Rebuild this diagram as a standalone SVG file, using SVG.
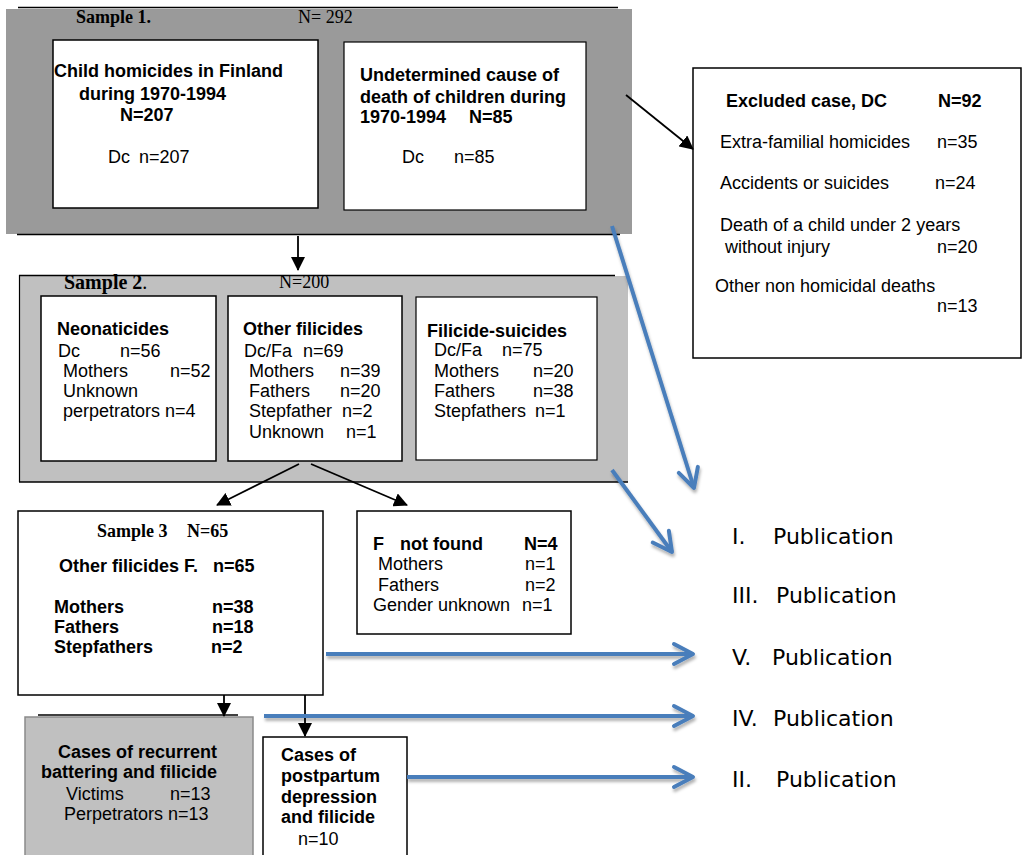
<svg xmlns="http://www.w3.org/2000/svg" width="1025" height="855" viewBox="0 0 1025 855">
<style>
.sans{font-family:"Liberation Sans",Arial,sans-serif;font-size:18px;fill:#000}
.b{font-weight:bold}
.serif{font-family:"Liberation Serif","Times New Roman",serif;font-size:18px;fill:#000}
.pub{font-family:"DejaVu Sans",Verdana,sans-serif;font-size:22px;fill:#000}
.box{fill:#fff;stroke:#000;stroke-width:1.5}
.bl{stroke:#000;stroke-width:1.8;fill:none}
.blue{stroke:#4a7ebb;stroke-width:4;fill:none}
</style>
<defs>
<marker id="ah" markerUnits="userSpaceOnUse" markerWidth="14" markerHeight="14" viewBox="0 0 14 14" refX="13" refY="7" orient="auto">
<path d="M0,0 L14,7 L0,14 z" fill="#000"/>
</marker>
<marker id="bh" markerUnits="userSpaceOnUse" markerWidth="26" markerHeight="26" viewBox="0 0 26 26" refX="22" refY="13" orient="auto">
<path d="M3,3 L22,13 L3,23" fill="none" stroke="#4a7ebb" stroke-width="4" stroke-linejoin="round" stroke-linecap="round"/>
</marker>
<filter id="sh" filterUnits="userSpaceOnUse" x="0" y="0" width="1025" height="855">
<feDropShadow dx="1" dy="3" stdDeviation="1.5" flood-color="#000" flood-opacity="0.3"/>
</filter>
</defs>
<rect width="1025" height="855" fill="#fff"/>

<g id="sample1">
<rect x="6" y="9" width="626" height="225" fill="#9a9a9a"/>
<line x1="18" y1="7.5" x2="618" y2="7.5" stroke="#000" stroke-width="1.5"/>
<line x1="17" y1="234.5" x2="620" y2="234.5" stroke="#000" stroke-width="1.5"/>
<text class="serif b" x="76" y="23">Sample 1.</text>
<text class="serif" x="298" y="23">N= 292</text>
</g>

<g id="homicides">
<rect class="box" x="53" y="40" width="265" height="168"/>
<text class="sans b" x="54" y="77">Child homicides in Finland</text>
<text class="sans b" x="79" y="100">during 1970-1994</text>
<text class="sans b" x="120" y="121">N=207</text>
<text class="sans" y="163"><tspan x="108">Dc</tspan><tspan x="139">n=207</tspan></text>
</g>

<g id="undetermined">
<rect class="box" x="344" y="42" width="242" height="168" style="stroke-width:1.2"/>
<text class="sans b" x="360" y="81">Undetermined cause of</text>
<text class="sans b" x="360" y="103">death of children during</text>
<text class="sans b" y="123"><tspan x="360">1970-1994</tspan><tspan x="469">N=85</tspan></text>
<text class="sans" y="163"><tspan x="402">Dc</tspan><tspan x="454">n=85</tspan></text>
</g>

<g id="excluded">
<rect class="box" x="693" y="68" width="328" height="290"/>
<text class="sans b" y="107"><tspan x="726">Excluded case, DC</tspan><tspan x="938">N=92</tspan></text>
<text class="sans" y="148"><tspan x="720">Extra-familial homicides</tspan><tspan x="937">n=35</tspan></text>
<text class="sans" y="189"><tspan x="720">Accidents or suicides</tspan><tspan x="935">n=24</tspan></text>
<text class="sans" x="720" y="231">Death of a child under 2 years</text>
<text class="sans" y="253"><tspan x="725">without injury</tspan><tspan x="937">n=20</tspan></text>
<text class="sans" x="715" y="292">Other non homicidal deaths</text>
<text class="sans" x="937" y="312">n=13</text>
</g>

<g id="sample2">
<rect x="19" y="276" width="609" height="206" fill="#c0c0c0"/>
<line x1="19" y1="275.5" x2="615" y2="275.5" stroke="#000" stroke-width="1.5"/>
<line x1="19" y1="482" x2="628" y2="482" stroke="#000" stroke-width="1.5"/>
<line x1="19.5" y1="275" x2="19.5" y2="482" stroke="#000" stroke-width="1.2"/>
<text class="serif" y="289" style="font-size:20px"><tspan class="b" x="64">Sample 2</tspan><tspan>.</tspan></text>
<text class="serif" x="279" y="288">N=200</text>
</g>

<g id="neonaticides">
<rect class="box" x="41" y="296" width="175" height="165"/>
<text class="sans b" x="57" y="335">Neonaticides</text>
<text class="sans" y="357"><tspan x="58">Dc</tspan><tspan x="120">n=56</tspan></text>
<text class="sans" y="377"><tspan x="63">Mothers</tspan><tspan x="170">n=52</tspan></text>
<text class="sans" x="63" y="397">Unknown</text>
<text class="sans" x="63" y="417">perpetrators n=4</text>
</g>

<g id="otherfilicides">
<rect class="box" x="228" y="296" width="174" height="165"/>
<text class="sans b" x="243" y="335">Other filicides</text>
<text class="sans" y="357"><tspan x="244">Dc/Fa</tspan><tspan x="303">n=69</tspan></text>
<text class="sans" y="377"><tspan x="249">Mothers</tspan><tspan x="340">n=39</tspan></text>
<text class="sans" y="397"><tspan x="249">Fathers</tspan><tspan x="340">n=20</tspan></text>
<text class="sans" y="417"><tspan x="249">Stepfather</tspan><tspan x="342">n=2</tspan></text>
<text class="sans" y="438"><tspan x="249">Unknown</tspan><tspan x="346">n=1</tspan></text>
</g>

<g id="filicidesuicides">
<rect class="box" x="416" y="297" width="181" height="163" style="stroke-width:1.2"/>
<text class="sans b" x="427" y="337">Filicide-suicides</text>
<text class="sans" y="356"><tspan x="434">Dc/Fa</tspan><tspan x="502">n=75</tspan></text>
<text class="sans" y="377"><tspan x="434">Mothers</tspan><tspan x="533">n=20</tspan></text>
<text class="sans" y="397"><tspan x="434">Fathers</tspan><tspan x="533">n=38</tspan></text>
<text class="sans" y="417"><tspan x="434">Stepfathers</tspan><tspan x="535">n=1</tspan></text>
</g>

<g id="sample3">
<rect class="box" x="18" y="511" width="305" height="184"/>
<text class="serif b" y="537"><tspan x="97">Sample 3</tspan><tspan x="187">N=65</tspan></text>
<text class="sans b" y="572"><tspan x="59">Other filicides F.</tspan><tspan x="213">n=65</tspan></text>
<text class="sans b" y="613"><tspan x="54">Mothers</tspan><tspan x="212">n=38</tspan></text>
<text class="sans b" y="633"><tspan x="54">Fathers</tspan><tspan x="212">n=18</tspan></text>
<text class="sans b" y="653"><tspan x="54">Stepfathers</tspan><tspan x="211">n=2</tspan></text>
</g>

<g id="notfound">
<rect class="box" x="357" y="511" width="214" height="123"/>
<text class="sans b" y="550"><tspan x="373">F</tspan><tspan x="400">not found</tspan><tspan x="524">N=4</tspan></text>
<text class="sans" y="570"><tspan x="378">Mothers</tspan><tspan x="525">n=1</tspan></text>
<text class="sans" y="591"><tspan x="378">Fathers</tspan><tspan x="525">n=2</tspan></text>
<text class="sans" y="611"><tspan x="373">Gender unknown</tspan><tspan x="522">n=1</tspan></text>
</g>

<g id="battering">
<rect x="25" y="717" width="228" height="150" fill="#c0c0c0" stroke="#8a8a8a" stroke-width="1.5"/>
<line x1="38" y1="715" x2="238" y2="715" stroke="#000" stroke-width="1.5"/>
<text class="sans b" x="58" y="758">Cases of recurrent</text>
<text class="sans b" x="41" y="778">battering and filicide</text>
<text class="sans" y="800"><tspan x="66">Victims</tspan><tspan x="170">n=13</tspan></text>
<text class="sans" x="64" y="820">Perpetrators n=13</text>
</g>

<g id="postpartum">
<rect class="box" x="263" y="737" width="144" height="130"/>
<text class="sans b" x="281" y="761">Cases of</text>
<text class="sans b" x="281" y="782">postpartum</text>
<text class="sans b" x="281" y="803">depression</text>
<text class="sans b" x="281" y="823">and filicide</text>
<text class="sans" x="298" y="845">n=10</text>
</g>

<g id="publications">
<text class="pub" y="544"><tspan x="732">I.</tspan><tspan x="773">Publication</tspan></text>
<text class="pub" y="603"><tspan x="732">III.</tspan><tspan x="776">Publication</tspan></text>
<text class="pub" y="665"><tspan x="732">V.</tspan><tspan x="772">Publication</tspan></text>
<text class="pub" y="726"><tspan x="732">IV.</tspan><tspan x="773">Publication</tspan></text>
<text class="pub" y="787"><tspan x="732">II.</tspan><tspan x="776">Publication</tspan></text>
</g>

<g id="connectors">
<line class="bl" x1="298" y1="236" x2="298" y2="270" marker-end="url(#ah)"/>
<line class="bl" x1="626" y1="95" x2="693" y2="149" marker-end="url(#ah)"/>
<line class="bl" x1="299" y1="464" x2="217" y2="505" marker-end="url(#ah)"/>
<line class="bl" x1="311" y1="464" x2="407" y2="505" marker-end="url(#ah)"/>
<line class="bl" x1="224" y1="695" x2="224" y2="716" marker-end="url(#ah)"/>
<line class="bl" x1="305" y1="695" x2="305" y2="736" marker-end="url(#ah)"/>
<g filter="url(#sh)">
<line class="blue" x1="612" y1="226" x2="694" y2="488" marker-end="url(#bh)"/>
<line class="blue" x1="612" y1="470" x2="672" y2="552" marker-end="url(#bh)"/>
<line class="blue" x1="326" y1="654" x2="693" y2="654" marker-end="url(#bh)"/>
<line class="blue" x1="264" y1="716" x2="693" y2="716" marker-end="url(#bh)"/>
<line class="blue" x1="407" y1="777" x2="693" y2="777" marker-end="url(#bh)"/>
</g>
</g>
</svg>
